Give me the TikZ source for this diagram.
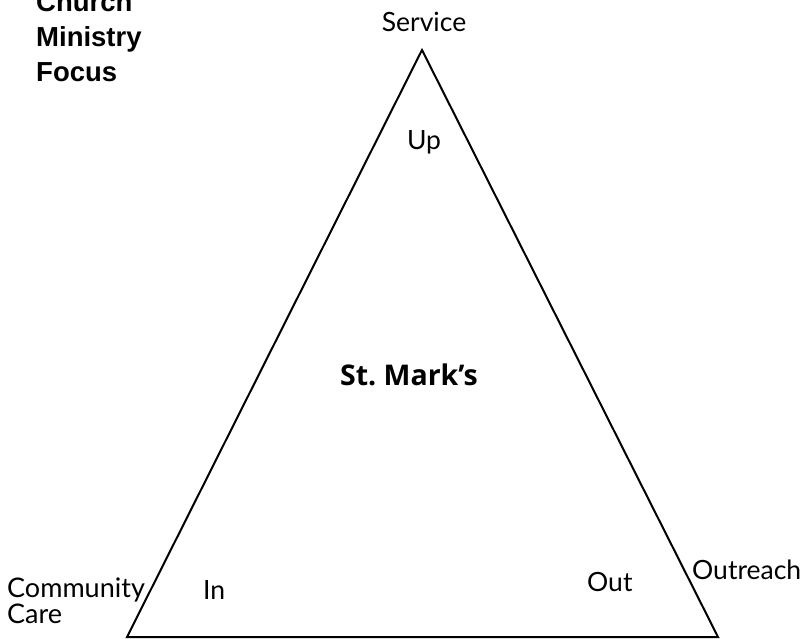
\documentclass[tikz,border=0pt]{standalone}
\usepackage{fontspec}
\setmainfont{Lato}
\newfontfamily\arialfont{Liberation Sans}
\newfontfamily\heavyfont{Open Sans}
\usepackage{tikz}

\begin{document}
\begin{tikzpicture}[x=1pt,y=-1pt,
  lbl/.style={anchor=base,inner sep=0pt,font=\fontsize{26.5}{29}\selectfont},
  side/.style={line width=2pt,line join=miter}]
  \useasboundingbox (0,0) rectangle (806,639);

  \coordinate (top) at (422,50);
  \coordinate (botleft) at (127,637);
  \coordinate (botright) at (718,637);
  \draw[side] (top) -- (botright) -- (botleft) -- cycle;

  \node[anchor=base west,inner sep=0pt,align=left,
        font=\arialfont\bfseries\fontsize{27.5}{35}\selectfont] (title) at (36,82)
        {Church\\Ministry\\Focus};

  \node[lbl] (service) at (424,32) {Service};
  \node[lbl] (up) at (424,150) {Up};
  \node[lbl,font=\heavyfont\bfseries\fontsize{28.5}{29}\selectfont] (church) at (409,385) {St.~Mark’s};

  \node[lbl,anchor=base west,align=left,font=\fontsize{27}{26}\selectfont] (community) at (7,623) {Community\\Care};
  \node[lbl,anchor=base west] (in) at (203,599) {In};
  \node[lbl,anchor=base west] (out) at (587,591) {Out};
  \node[lbl,anchor=base west] (outreach) at (692,579) {Outreach};
\end{tikzpicture}
\end{document}
